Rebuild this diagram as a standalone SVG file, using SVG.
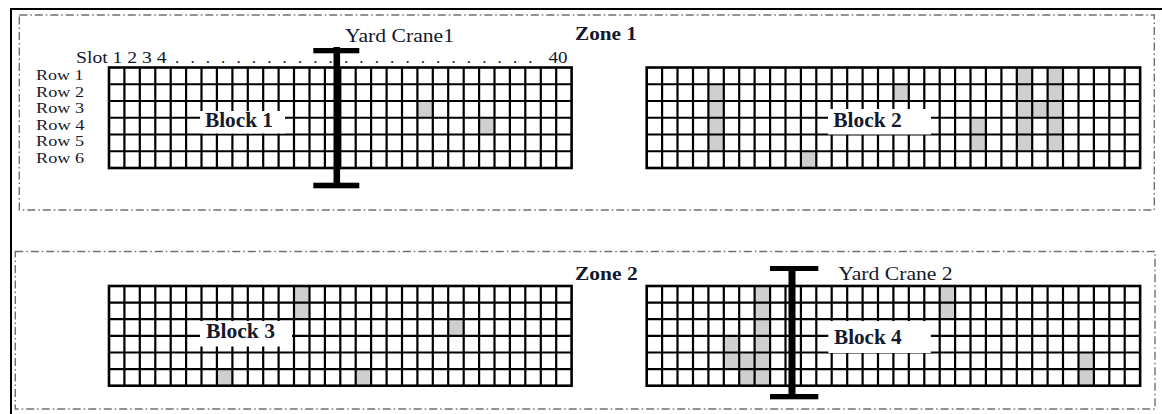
<svg xmlns="http://www.w3.org/2000/svg" width="1162" height="414" viewBox="0 0 1162 414">
<style>
.frame{fill:none;stroke:#000;stroke-width:2}
.zone{fill:none;stroke:#707070;stroke-width:1.4;stroke-dasharray:8 3 1.5 3}
.bg{fill:#fff}
.sh{fill:#cfcfcf}
.grid{fill:none;stroke:#000;stroke-width:2.2}
.border{fill:none;stroke:#000;stroke-width:2.6}
.lbox{fill:#fff}
.t{font-family:"Liberation Serif","Times New Roman",serif;fill:#14182c}
.r{font-size:17px}
.rw{font-size:15.5px}
.y{font-size:18.5px}
.z{font-size:18px;font-weight:bold}
.b{font-size:20px;font-weight:bold}
.crane{fill:#000}
</style>
<rect width="1162" height="414" fill="#fff"/>
<path class="frame" d="M11,414 V9 H1162"/>

<g id="zone1">
<rect class="zone" x="19.3" y="15" width="1135" height="195"/>
<text class="t z" x="575" y="39.5" textLength="62" lengthAdjust="spacingAndGlyphs">Zone 1</text>
</g>
<g id="zone2">
<rect class="zone" x="15.3" y="251.5" width="1139.7" height="157.5"/>
<text class="t z" x="575" y="280" textLength="62.7" lengthAdjust="spacingAndGlyphs">Zone 2</text>
</g>

<g id="axis-labels">
<text class="t r" x="76" y="62.5" textLength="90.7" lengthAdjust="spacingAndGlyphs">Slot 1 2 3 4</text>
<text class="t r" x="175 190.4 205.7 221.1 236.4 251.8 267.2 282.5 297.9 313.2 328.6 344 359.3 374.7 390 405.4 420.8 436.1 451.5 466.8 482.2 497.6 512.9 528.3" y="62.5">........................</text>
<text class="t r" x="548.5" y="62.5" textLength="19" lengthAdjust="spacingAndGlyphs">40</text>
<text class="t rw" x="36" y="80" textLength="47.5" lengthAdjust="spacingAndGlyphs">Row 1</text>
<text class="t rw" x="36" y="96.6" textLength="48" lengthAdjust="spacingAndGlyphs">Row 2</text>
<text class="t rw" x="36" y="113.2" textLength="48" lengthAdjust="spacingAndGlyphs">Row 3</text>
<text class="t rw" x="36" y="129.8" textLength="48.5" lengthAdjust="spacingAndGlyphs">Row 4</text>
<text class="t rw" x="36" y="146.4" textLength="48" lengthAdjust="spacingAndGlyphs">Row 5</text>
<text class="t rw" x="36" y="163" textLength="48" lengthAdjust="spacingAndGlyphs">Row 6</text>
</g>

<g id="block1">
<rect class="bg" x="109" y="67.5" width="462.6" height="100.5"/>
<rect class="sh" x="417.4" y="101" width="15.42" height="16.75"/>
<rect class="sh" x="479.08" y="117.75" width="15.42" height="16.75"/>
<path class="grid" d="M124.4,67.5V168M139.8,67.5V168M155.3,67.5V168M170.7,67.5V168M186.1,67.5V168M201.5,67.5V168M216.9,67.5V168M232.4,67.5V168M247.8,67.5V168M263.2,67.5V168M278.6,67.5V168M294,67.5V168M309.5,67.5V168M324.9,67.5V168M340.3,67.5V168M355.7,67.5V168M371.1,67.5V168M386.6,67.5V168M402,67.5V168M417.4,67.5V168M432.8,67.5V168M448.2,67.5V168M463.7,67.5V168M479.1,67.5V168M494.5,67.5V168M509.9,67.5V168M525.3,67.5V168M540.8,67.5V168M556.2,67.5V168M109,84.25H571.6M109,101H571.6M109,117.75H571.6M109,134.5H571.6M109,151.25H571.6"/>
<rect class="border" x="109" y="67.5" width="462.6" height="100.5"/>
<rect class="lbox" x="200" y="111" width="85" height="22.5"/>
<text class="t b" x="205" y="127.3" textLength="68" lengthAdjust="spacingAndGlyphs">Block 1</text>
</g>

<g id="block2">
<rect class="bg" x="646.7" y="67.5" width="493.44" height="100.5"/>
<rect class="sh" x="708.38" y="84.25" width="15.42" height="67"/>
<rect class="sh" x="800.9" y="151.25" width="15.42" height="16.75"/>
<rect class="sh" x="893.42" y="84.25" width="15.42" height="16.75"/>
<rect class="sh" x="970.52" y="117.75" width="15.42" height="33.5"/>
<rect class="sh" x="1016.78" y="67.5" width="15.42" height="83.75"/>
<rect class="sh" x="1032.2" y="101" width="15.42" height="16.75"/>
<rect class="sh" x="1047.62" y="67.5" width="15.42" height="83.75"/>
<path class="grid" d="M662.1,67.5V168M677.5,67.5V168M693,67.5V168M708.4,67.5V168M723.8,67.5V168M739.2,67.5V168M754.6,67.5V168M770.1,67.5V168M785.5,67.5V168M800.9,67.5V168M816.3,67.5V168M831.7,67.5V168M847.2,67.5V168M862.6,67.5V168M878,67.5V168M893.4,67.5V168M908.8,67.5V168M924.3,67.5V168M939.7,67.5V168M955.1,67.5V168M970.5,67.5V168M985.9,67.5V168M1001.4,67.5V168M1016.8,67.5V168M1032.2,67.5V168M1047.6,67.5V168M1063,67.5V168M1078.5,67.5V168M1093.9,67.5V168M1109.3,67.5V168M1124.7,67.5V168M646.7,84.25H1140.1M646.7,101H1140.1M646.7,117.75H1140.1M646.7,134.5H1140.1M646.7,151.25H1140.1"/>
<rect class="border" x="646.7" y="67.5" width="493.44" height="100.5"/>
<rect class="lbox" x="828" y="109" width="103" height="25.5"/>
<text class="t b" x="833.3" y="127.3" textLength="68.4" lengthAdjust="spacingAndGlyphs">Block 2</text>
</g>

<g id="block3">
<rect class="bg" x="109" y="286" width="462.6" height="99.7"/>
<rect class="sh" x="294.04" y="286" width="15.42" height="33.24"/>
<rect class="sh" x="216.94" y="369.1" width="15.42" height="16.6"/>
<rect class="sh" x="448.24" y="319.24" width="15.42" height="16.62"/>
<rect class="sh" x="355.72" y="369.1" width="15.42" height="16.6"/>
<path class="grid" d="M124.4,286V385.7M139.8,286V385.7M155.3,286V385.7M170.7,286V385.7M186.1,286V385.7M201.5,286V385.7M216.9,286V385.7M232.4,286V385.7M247.8,286V385.7M263.2,286V385.7M278.6,286V385.7M294,286V385.7M309.5,286V385.7M324.9,286V385.7M340.3,286V385.7M355.7,286V385.7M371.1,286V385.7M386.6,286V385.7M402,286V385.7M417.4,286V385.7M432.8,286V385.7M448.2,286V385.7M463.7,286V385.7M479.1,286V385.7M494.5,286V385.7M509.9,286V385.7M525.3,286V385.7M540.8,286V385.7M556.2,286V385.7M109,302.6H571.6M109,319.2H571.6M109,335.9H571.6M109,352.5H571.6M109,369.1H571.6"/>
<rect class="border" x="109" y="286" width="462.6" height="99.7"/>
<rect class="lbox" x="200" y="321" width="92" height="25.5"/>
<text class="t b" x="206" y="338.3" textLength="69" lengthAdjust="spacingAndGlyphs">Block 3</text>
</g>

<g id="block4">
<rect class="bg" x="646.7" y="286" width="493.44" height="99.7"/>
<rect class="sh" x="723.8" y="335.86" width="15.42" height="33.24"/>
<rect class="sh" x="739.22" y="352.48" width="15.42" height="33.22"/>
<rect class="sh" x="754.64" y="286" width="15.42" height="99.7"/>
<rect class="sh" x="939.68" y="286" width="15.42" height="33.24"/>
<rect class="sh" x="1078.46" y="352.48" width="15.42" height="33.22"/>
<path class="grid" d="M662.1,286V385.7M677.5,286V385.7M693,286V385.7M708.4,286V385.7M723.8,286V385.7M739.2,286V385.7M754.6,286V385.7M770.1,286V385.7M785.5,286V385.7M800.9,286V385.7M816.3,286V385.7M831.7,286V385.7M847.2,286V385.7M862.6,286V385.7M878,286V385.7M893.4,286V385.7M908.8,286V385.7M924.3,286V385.7M939.7,286V385.7M955.1,286V385.7M970.5,286V385.7M985.9,286V385.7M1001.4,286V385.7M1016.8,286V385.7M1032.2,286V385.7M1047.6,286V385.7M1063,286V385.7M1078.5,286V385.7M1093.9,286V385.7M1109.3,286V385.7M1124.7,286V385.7M646.7,302.6H1140.1M646.7,319.2H1140.1M646.7,335.9H1140.1M646.7,352.5H1140.1M646.7,369.1H1140.1"/>
<rect class="border" x="646.7" y="286" width="493.44" height="99.7"/>
<rect class="lbox" x="828.3" y="321" width="102.5" height="32"/>
<text class="t b" x="834" y="344" textLength="67.7" lengthAdjust="spacingAndGlyphs">Block 4</text>
</g>

<g id="crane1">
<rect class="crane" x="313.3" y="48" width="46" height="5.3"/>
<rect class="crane" x="333.5" y="47" width="6.6" height="141"/>
<rect class="crane" x="313.3" y="182.7" width="46" height="5.6"/>
<text class="t y" x="345" y="41.5" textLength="109" lengthAdjust="spacingAndGlyphs">Yard Crane1</text>
</g>

<g id="crane2">
<rect class="crane" x="770" y="266" width="48.3" height="5"/>
<rect class="crane" x="788.5" y="266" width="7" height="133"/>
<rect class="crane" x="770" y="394" width="48.3" height="5.3"/>
<text class="t y" x="838.3" y="279.5" textLength="114.4" lengthAdjust="spacingAndGlyphs">Yard Crane 2</text>
</g>

<g id="connectors"></g>
</svg>
